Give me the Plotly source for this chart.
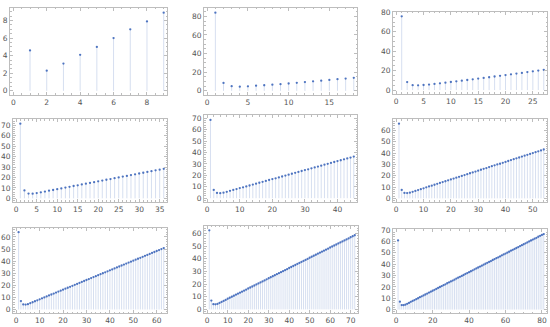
import plotly.graph_objects as go

W, H = 550, 327

n_values = [9, 18, 27, 36, 45, 54, 63, 72, 81]

v1 = [4.6, 2.3, 3.1, 4.1, 5.0, 6.0, 7.0, 7.9, 8.9]
v2 = [84, 8.5, 5.0, 4.5, 4.8, 5.5, 6.0, 6.6, 7.2, 7.9, 8.6, 9.4, 10.2, 10.9, 11.7, 12.5, 13.2, 14.0]
v3 = [76, 8.2, 5.0, 4.9, 5.2, 5.7, 6.3, 7.0, 7.6, 8.3, 9.0, 9.7, 10.4, 11.1, 11.8, 12.5, 13.2, 14.0,
      14.7, 15.5, 16.2, 17.0, 17.7, 18.5, 19.3, 20.1, 20.9]
v4 = [71.5, 7.6, 4.6, 4.5, 5.0, 5.8, 6.5, 7.3, 8.0, 8.8, 9.5, 10.3, 11.0, 11.8, 12.5, 13.3, 14.0, 14.8,
      15.5, 16.3, 17.0, 17.8, 18.5, 19.3, 20.0, 20.8, 21.5, 22.3, 23.0, 23.8, 24.5, 25.3, 26.0, 26.8,
      27.5, 28.3]
v5 = [68.5, 7.2, 4.6, 4.4, 4.8, 5.6, 6.4, 7.2, 8.0, 8.8, 9.5, 10.3, 11.1, 11.9, 12.7, 13.5, 14.3, 15.1,
      15.9, 16.7, 17.4, 18.2, 19.0, 19.8, 20.6, 21.4, 22.2, 23.0, 23.8, 24.6, 25.3, 26.1, 26.9, 27.7,
      28.5, 29.3, 30.1, 30.9, 31.7, 32.5, 33.2, 34.0, 34.8, 35.6, 36.4]
v6 = [66, 7.4, 4.8, 4.7, 5.0, 5.8, 6.6, 7.3, 8.1, 8.9, 9.7, 10.5, 11.2, 12.0, 12.8, 13.6, 14.4, 15.1,
      15.9, 16.7, 17.5, 18.3, 19.0, 19.8, 20.6, 21.4, 22.2, 22.9, 23.7, 24.5, 25.3, 26.1, 26.8, 27.6,
      28.4, 29.2, 30.0, 30.6, 31.4, 32.2, 33.0, 33.8, 34.6, 35.4, 36.1, 36.9, 37.7, 38.5, 39.3, 40.0,
      40.8, 41.6, 42.4, 43.2]
v7 = [64, 7.0, 4.2, 4.1, 4.4, 5.2, 6.0, 6.8, 7.6, 8.4, 9.2, 10.0, 10.8, 11.6, 12.4, 13.2, 14.0, 14.8,
      15.6, 16.4, 17.2, 18.0, 18.8, 19.6, 20.4, 21.2, 22.0, 22.8, 23.6, 24.4, 25.2, 26.0, 26.8, 27.6,
      28.4, 29.2, 30.0, 30.8, 31.6, 32.4, 33.2, 34.0, 34.8, 35.6, 36.4, 37.2, 38.0, 38.8, 39.6, 40.4,
      41.2, 42.0, 42.8, 43.6, 44.4, 45.2, 46.0, 46.8, 47.6, 48.4, 49.2, 50.0, 50.8]
v8 = [62.5, 7.0, 4.1, 4.0, 4.3, 5.1, 5.9, 6.7, 7.5, 8.4, 9.2, 10.0, 10.8, 11.6, 12.4, 13.2, 14.0, 14.8,
      15.6, 16.5, 17.3, 18.1, 18.9, 19.7, 20.5, 21.3, 22.1, 22.9, 23.8, 24.6, 25.4, 26.2, 27.0, 27.8,
      28.6, 29.4, 30.2, 31.0, 31.8, 32.7, 33.5, 34.3, 35.1, 35.9, 36.7, 37.5, 38.3, 39.1, 39.9, 40.8,
      41.6, 42.4, 43.2, 44.0, 44.8, 45.6, 46.4, 47.2, 48.0, 48.9, 49.7, 50.5, 51.3, 52.1, 52.9, 53.7,
      54.5, 55.3, 56.1, 57.0, 57.8, 58.6]
v9 = [61, 7.0, 4.0, 3.9, 4.3, 5.1, 5.9, 6.8, 7.6, 8.4, 9.2, 10.0, 10.9, 11.7, 12.5, 13.3, 14.1, 15.0,
      15.8, 16.6, 17.4, 18.2, 19.1, 19.9, 20.7, 21.5, 22.3, 23.2, 24.0, 24.8, 25.6, 26.4, 27.3, 28.1,
      28.9, 29.7, 30.5, 31.4, 32.2, 33.0, 33.8, 34.6, 35.5, 36.3, 37.1, 37.9, 38.7, 39.6, 40.4, 41.2,
      42.0, 42.8, 43.7, 44.5, 45.3, 46.1, 46.9, 47.8, 48.6, 49.4, 50.2, 51.0, 51.9, 52.7, 53.5, 54.3,
      55.1, 56.0, 56.8, 57.6, 58.4, 59.2, 60.1, 60.9, 61.7, 62.5, 63.3, 64.2, 65.0, 65.8, 66.6]

series = [v1, v2, v3, v4, v5, v6, v7, v8, v9]

x_dticks = [2, 5, 5, 5, 10, 10, 10, 10, 20]
y_dticks = [2, 20, 20, 10, 10, 10, 10, 10, 10]

# panel frames in pixels: (x0, x1, y0, y1)
frames = [
    (10, 167, 4, 92), (204, 357, 4, 92), (393, 547, 8, 91),
    (13, 167, 117, 201), (204, 357, 113, 201), (393, 547, 117, 201),
    (13, 167, 227, 314), (204, 358, 225, 314), (393, 547, 229, 314),
]

PT = "rgb(78,116,192)"
STEM = "rgba(120,150,205,0.3)"
FRAME = "#bdbdbd"
FONT = dict(family="DejaVu Sans", size=7.5, color="#555")

fig = go.Figure()
layout = dict(width=W, height=H, margin=dict(l=0, r=0, t=0, b=0),
              paper_bgcolor="white", plot_bgcolor="white", showlegend=False)

for i, vals in enumerate(series):
    k = i + 1
    xs = list(range(1, len(vals) + 1))
    sx, sy = [], []
    for x, y in zip(xs, vals):
        sx += [x, x, None]
        sy += [0, y, None]
    xa = "x" if k == 1 else f"x{k}"
    ya = "y" if k == 1 else f"y{k}"
    fig.add_trace(go.Scatter(x=sx, y=sy, mode="lines", line=dict(color=STEM, width=1),
                             xaxis=xa, yaxis=ya, hoverinfo="skip"))
    fig.add_trace(go.Scatter(x=xs, y=vals, mode="markers",
                             marker=dict(color=PT, size=2.3, line=dict(width=0)),
                             xaxis=xa, yaxis=ya))
    x0, x1, y0, y1 = frames[i]
    xmax = len(vals)
    ymax = max(vals)
    xpad = 0.022 * xmax
    ypad = 0.06 * ymax
    common = dict(showgrid=False, zeroline=False, showline=True, linecolor=FRAME, linewidth=1,
                  mirror="allticks", ticks="inside", ticklen=3, tickcolor=FRAME, tickfont=FONT,
                  minor=dict(ticks="inside", ticklen=1.5, tickcolor=FRAME, nticks=5))
    layout["xaxis" if k == 1 else f"xaxis{k}"] = dict(
        domain=[x0 / W, x1 / W], anchor=ya, range=[-xpad, xmax + xpad],
        dtick=x_dticks[i], tick0=0, **common)
    layout["yaxis" if k == 1 else f"yaxis{k}"] = dict(
        domain=[1 - y1 / H, 1 - y0 / H], anchor=xa, range=[-ypad * 0.8, ymax + ypad],
        dtick=y_dticks[i], tick0=0, **common)

fig.update_layout(**layout)
fig.write_html("out.html", config={"displayModeBar": False},
               post_script="document.body.style.margin='0';")
